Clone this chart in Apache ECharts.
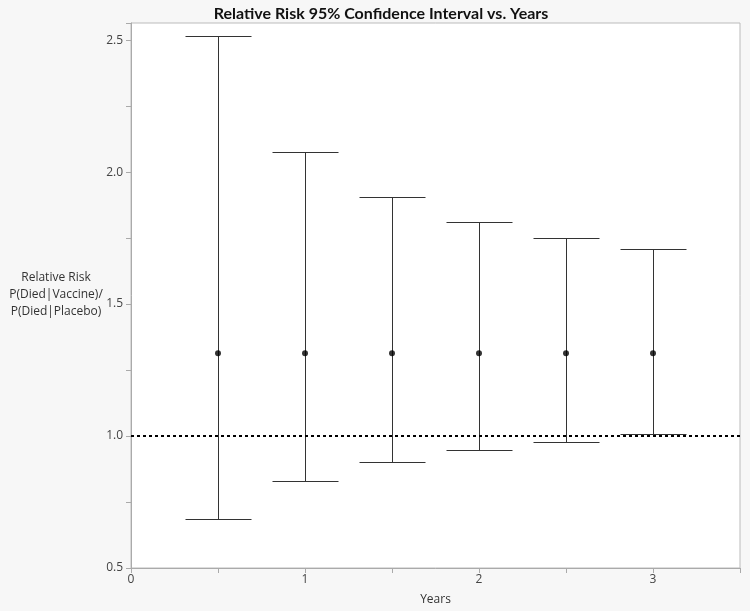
<!DOCTYPE html>
<html>
<head>
<meta charset="utf-8">
<script src="https://cdn.jsdelivr.net/npm/echarts@6/dist/echarts.min.js"></script>
<style>
html,body{margin:0;padding:0;background:#f7f7f7;}
#chart{width:750px;height:611px;}
</style>
</head>
<body>
<div id="chart"></div>
<script>
const years = [0.5, 1, 1.5, 2, 2.5, 3];
const relRisk = [1.314, 1.314, 1.314, 1.314, 1.314, 1.314];
const lowerCI = [0.686, 0.83, 0.902, 0.947, 0.979, 1.006];
const upperCI = [2.515, 2.075, 1.905, 1.81, 1.75, 1.708];
const refLine = 1.0;
const yTicks = [0.5, 1.0, 1.5, 2.0, 2.5];
const xTicks = [0, 1, 2, 3];

const FONT = 'Open Sans';
const chart = echarts.init(document.getElementById('chart'));
const errData = years.map((x, i) => [x, lowerCI[i], upperCI[i]]);
const ptData = years.map((x, i) => [x, relRisk[i]]);

chart.setOption({
  backgroundColor: '#f7f7f7',
  animation: false,
  title: {
    text: 'Relative Risk 95% Confidence Interval vs. Years',
    left: 376, top: 1, textAlign: 'center',
    textStyle: {fontFamily: 'Lato', fontWeight: 'bold', fontSize: 16, color: '#111'}
  },
  graphic: [{
    type: 'text', x: 56, y: 295,
    style: {
      text: 'Relative Risk\nP(Died|Vaccine)/\nP(Died|Placebo)',
      fontFamily: FONT, fontSize: 12, lineHeight: 17, fill: '#333',
      textAlign: 'center', textVerticalAlign: 'middle'
    }
  }],
  grid: {
    left: 131, right: 10, top: 23, bottom: 43,
    show: true, backgroundColor: '#fff', borderColor: '#bbb', borderWidth: 1
  },
  xAxis: {
    type: 'value', min: 0, max: 3.5, interval: 1,
    name: 'Years', nameLocation: 'middle', nameGap: 26,
    nameTextStyle: {fontFamily: FONT, fontSize: 12, color: '#333'},
    axisLine: {show: true, lineStyle: {color: '#aaa'}},
    axisTick: {show: true, length: 5, lineStyle: {color: '#aaa'}},
    minorTick: {show: true, splitNumber: 2, length: 5, lineStyle: {color: '#aaa'}},
    splitLine: {show: false},
    axisLabel: {
      showMaxLabel: false, fontFamily: FONT, fontSize: 12, color: '#444', margin: 6,
      formatter: v => xTicks.includes(v) ? String(v) : ''
    }
  },
  yAxis: {
    type: 'value', min: 0.5, max: 2.565, interval: 0.5,
    axisLine: {show: true, lineStyle: {color: '#aaa'}},
    axisTick: {show: true, length: 5, lineStyle: {color: '#aaa'}},
    minorTick: {show: true, splitNumber: 2, length: 5, lineStyle: {color: '#aaa'}},
    splitLine: {show: false},
    axisLabel: {
      showMaxLabel: false, fontFamily: FONT, fontSize: 12, color: '#444', margin: 8,
      formatter: v => yTicks.some(t => Math.abs(t - v) < 1e-9) ? v.toFixed(1) : ''
    }
  },
  series: [
    {
      type: 'custom',
      data: errData,
      z: 2,
      renderItem: function (params, api) {
        const x = api.value(0);
        const lo = api.coord([x, api.value(1)]);
        const hi = api.coord([x, api.value(2)]);
        const hw = 33;
        const cx = Math.round(lo[0]) + 0.5;
        const ly = Math.round(lo[1]) + 0.5;
        const hy = Math.round(hi[1]) + 0.5;
        const st = {stroke: '#333', lineWidth: 1, fill: null};
        return {
          type: 'group',
          children: [
            {type: 'line', shape: {x1: cx, y1: ly, x2: cx, y2: hy}, style: st},
            {type: 'line', shape: {x1: cx - hw, y1: ly, x2: cx + hw, y2: ly}, style: st},
            {type: 'line', shape: {x1: cx - hw, y1: hy, x2: cx + hw, y2: hy}, style: st}
          ]
        };
      }
    },
    {
      type: 'scatter',
      data: ptData,
      symbol: 'circle', symbolSize: 6,
      itemStyle: {color: '#000'},
      z: 4,
      markLine: {
        silent: true, symbol: 'none', label: {show: false},
        lineStyle: {color: '#000', type: [3, 3], width: 2},
        data: [{yAxis: refLine}]
      }
    }
  ]
});
</script>
</body>
</html>
